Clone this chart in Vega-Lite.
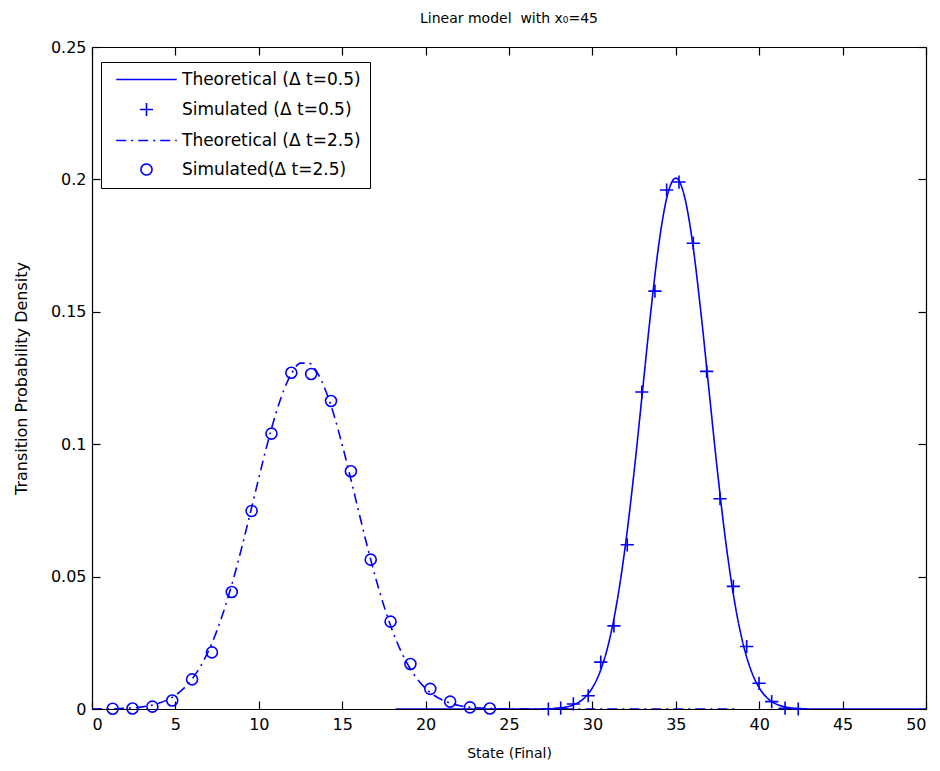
{
  "$schema": "https://vega.github.io/schema/vega-lite/v6.json",
  "width": 834,
  "height": 662,
  "autosize": "none",
  "padding": {"left": 92, "top": 47, "right": 14, "bottom": 62},
  "background": "white",
  "title": {"text": "Linear model\u00a0 with x₀=45", "font": "DejaVu Sans", "fontSize": 14, "fontWeight": "normal", "color": "black", "offset": 13, "anchor": "middle"},
  "config": {
    "view": {"stroke": "black", "strokeWidth": 1},
    "axis": {"grid": false, "domainColor": "black", "tickColor": "black", "labelColor": "black", "titleColor": "black", "labelFont": "DejaVu Sans", "titleFont": "DejaVu Sans", "labelFontSize": 16, "titleFontSize": 15, "titleFontWeight": "normal", "tickSize": -8, "domainWidth": 1.2, "tickWidth": 1.2}
  },
  "datasets": {
    "theory": [
      {"series": "Theoretical (Δ t=0.5)", "x": 18.2, "y": 0},
      {"series": "Theoretical (Δ t=0.5)", "x": 26, "y": 0},
      {"series": "Theoretical (Δ t=0.5)", "x": 27, "y": 0.00002},
      {"series": "Theoretical (Δ t=0.5)", "x": 27.5, "y": 0.00008},
      {"series": "Theoretical (Δ t=0.5)", "x": 28, "y": 0.00036},
      {"series": "Theoretical (Δ t=0.5)", "x": 28.5, "y": 0.00087},
      {"series": "Theoretical (Δ t=0.5)", "x": 29, "y": 0.00194},
      {"series": "Theoretical (Δ t=0.5)", "x": 29.5, "y": 0.00407},
      {"series": "Theoretical (Δ t=0.5)", "x": 30, "y": 0.008},
      {"series": "Theoretical (Δ t=0.5)", "x": 30.5, "y": 0.01476},
      {"series": "Theoretical (Δ t=0.5)", "x": 31, "y": 0.0255},
      {"series": "Theoretical (Δ t=0.5)", "x": 31.5, "y": 0.0414},
      {"series": "Theoretical (Δ t=0.5)", "x": 32, "y": 0.0629},
      {"series": "Theoretical (Δ t=0.5)", "x": 32.5, "y": 0.0896},
      {"series": "Theoretical (Δ t=0.5)", "x": 33, "y": 0.1198},
      {"series": "Theoretical (Δ t=0.5)", "x": 33.5, "y": 0.15},
      {"series": "Theoretical (Δ t=0.5)", "x": 34, "y": 0.1763},
      {"series": "Theoretical (Δ t=0.5)", "x": 34.5, "y": 0.1941},
      {"series": "Theoretical (Δ t=0.5)", "x": 35, "y": 0.2005},
      {"series": "Theoretical (Δ t=0.5)", "x": 35.5, "y": 0.1941},
      {"series": "Theoretical (Δ t=0.5)", "x": 36, "y": 0.1763},
      {"series": "Theoretical (Δ t=0.5)", "x": 36.5, "y": 0.15},
      {"series": "Theoretical (Δ t=0.5)", "x": 37, "y": 0.1198},
      {"series": "Theoretical (Δ t=0.5)", "x": 37.5, "y": 0.0896},
      {"series": "Theoretical (Δ t=0.5)", "x": 38, "y": 0.0629},
      {"series": "Theoretical (Δ t=0.5)", "x": 38.5, "y": 0.0414},
      {"series": "Theoretical (Δ t=0.5)", "x": 39, "y": 0.0255},
      {"series": "Theoretical (Δ t=0.5)", "x": 39.5, "y": 0.01476},
      {"series": "Theoretical (Δ t=0.5)", "x": 40, "y": 0.008},
      {"series": "Theoretical (Δ t=0.5)", "x": 40.5, "y": 0.00407},
      {"series": "Theoretical (Δ t=0.5)", "x": 41, "y": 0.00194},
      {"series": "Theoretical (Δ t=0.5)", "x": 41.5, "y": 0.00087},
      {"series": "Theoretical (Δ t=0.5)", "x": 42, "y": 0.00036},
      {"series": "Theoretical (Δ t=0.5)", "x": 42.5, "y": 0.00014},
      {"series": "Theoretical (Δ t=0.5)", "x": 43, "y": 0.00002},
      {"series": "Theoretical (Δ t=0.5)", "x": 44, "y": 0},
      {"series": "Theoretical (Δ t=0.5)", "x": 50, "y": 0},
      {"series": "Theoretical (Δ t=2.5)", "x": 0, "y": 0.00002},
      {"series": "Theoretical (Δ t=2.5)", "x": 1, "y": 0.00008},
      {"series": "Theoretical (Δ t=2.5)", "x": 2, "y": 0.00026},
      {"series": "Theoretical (Δ t=2.5)", "x": 3, "y": 0.00079},
      {"series": "Theoretical (Δ t=2.5)", "x": 4, "y": 0.00214},
      {"series": "Theoretical (Δ t=2.5)", "x": 4.5, "y": 0.00338},
      {"series": "Theoretical (Δ t=2.5)", "x": 5, "y": 0.00519},
      {"series": "Theoretical (Δ t=2.5)", "x": 5.5, "y": 0.00777},
      {"series": "Theoretical (Δ t=2.5)", "x": 6, "y": 0.01132},
      {"series": "Theoretical (Δ t=2.5)", "x": 6.5, "y": 0.01605},
      {"series": "Theoretical (Δ t=2.5)", "x": 7, "y": 0.02215},
      {"series": "Theoretical (Δ t=2.5)", "x": 7.5, "y": 0.02978},
      {"series": "Theoretical (Δ t=2.5)", "x": 8, "y": 0.03896},
      {"series": "Theoretical (Δ t=2.5)", "x": 8.5, "y": 0.04962},
      {"series": "Theoretical (Δ t=2.5)", "x": 9, "y": 0.06152},
      {"series": "Theoretical (Δ t=2.5)", "x": 9.5, "y": 0.07425},
      {"series": "Theoretical (Δ t=2.5)", "x": 10, "y": 0.08725},
      {"series": "Theoretical (Δ t=2.5)", "x": 10.5, "y": 0.0998},
      {"series": "Theoretical (Δ t=2.5)", "x": 11, "y": 0.1111},
      {"series": "Theoretical (Δ t=2.5)", "x": 11.5, "y": 0.1204},
      {"series": "Theoretical (Δ t=2.5)", "x": 12, "y": 0.1271},
      {"series": "Theoretical (Δ t=2.5)", "x": 12.5, "y": 0.1306},
      {"series": "Theoretical (Δ t=2.5)", "x": 13, "y": 0.1306},
      {"series": "Theoretical (Δ t=2.5)", "x": 13.5, "y": 0.1271},
      {"series": "Theoretical (Δ t=2.5)", "x": 14, "y": 0.1204},
      {"series": "Theoretical (Δ t=2.5)", "x": 14.5, "y": 0.1111},
      {"series": "Theoretical (Δ t=2.5)", "x": 15, "y": 0.0998},
      {"series": "Theoretical (Δ t=2.5)", "x": 15.5, "y": 0.08725},
      {"series": "Theoretical (Δ t=2.5)", "x": 16, "y": 0.07425},
      {"series": "Theoretical (Δ t=2.5)", "x": 16.5, "y": 0.06152},
      {"series": "Theoretical (Δ t=2.5)", "x": 17, "y": 0.04962},
      {"series": "Theoretical (Δ t=2.5)", "x": 17.5, "y": 0.03896},
      {"series": "Theoretical (Δ t=2.5)", "x": 18, "y": 0.02978},
      {"series": "Theoretical (Δ t=2.5)", "x": 18.5, "y": 0.02215},
      {"series": "Theoretical (Δ t=2.5)", "x": 19, "y": 0.01605},
      {"series": "Theoretical (Δ t=2.5)", "x": 19.5, "y": 0.01132},
      {"series": "Theoretical (Δ t=2.5)", "x": 20, "y": 0.00777},
      {"series": "Theoretical (Δ t=2.5)", "x": 20.5, "y": 0.00519},
      {"series": "Theoretical (Δ t=2.5)", "x": 21, "y": 0.00338},
      {"series": "Theoretical (Δ t=2.5)", "x": 21.5, "y": 0.00214},
      {"series": "Theoretical (Δ t=2.5)", "x": 22, "y": 0.00132},
      {"series": "Theoretical (Δ t=2.5)", "x": 22.5, "y": 0.00079},
      {"series": "Theoretical (Δ t=2.5)", "x": 23, "y": 0.00046},
      {"series": "Theoretical (Δ t=2.5)", "x": 24, "y": 0.00015},
      {"series": "Theoretical (Δ t=2.5)", "x": 25, "y": 0.00004},
      {"series": "Theoretical (Δ t=2.5)", "x": 26, "y": 0},
      {"series": "Theoretical (Δ t=2.5)", "x": 38.6, "y": 0}
    ],
    "sim": [
      {"series": "Simulated (Δ t=0.5)", "x": 27.36, "y": 0},
      {"series": "Simulated (Δ t=0.5)", "x": 28.1, "y": 0.0003},
      {"series": "Simulated (Δ t=0.5)", "x": 28.86, "y": 0.0019},
      {"series": "Simulated (Δ t=0.5)", "x": 29.75, "y": 0.005},
      {"series": "Simulated (Δ t=0.5)", "x": 30.5, "y": 0.0177},
      {"series": "Simulated (Δ t=0.5)", "x": 31.29, "y": 0.0314},
      {"series": "Simulated (Δ t=0.5)", "x": 32.09, "y": 0.062},
      {"series": "Simulated (Δ t=0.5)", "x": 32.96, "y": 0.1197},
      {"series": "Simulated (Δ t=0.5)", "x": 33.75, "y": 0.1578},
      {"series": "Simulated (Δ t=0.5)", "x": 34.45, "y": 0.196},
      {"series": "Simulated (Δ t=0.5)", "x": 35.19, "y": 0.199},
      {"series": "Simulated (Δ t=0.5)", "x": 36.05, "y": 0.1759},
      {"series": "Simulated (Δ t=0.5)", "x": 36.85, "y": 0.1275},
      {"series": "Simulated (Δ t=0.5)", "x": 37.65, "y": 0.0794},
      {"series": "Simulated (Δ t=0.5)", "x": 38.45, "y": 0.0463},
      {"series": "Simulated (Δ t=0.5)", "x": 39.25, "y": 0.0236},
      {"series": "Simulated (Δ t=0.5)", "x": 39.99, "y": 0.0097},
      {"series": "Simulated (Δ t=0.5)", "x": 40.75, "y": 0.0028},
      {"series": "Simulated (Δ t=0.5)", "x": 41.55, "y": 0.0003},
      {"series": "Simulated (Δ t=0.5)", "x": 42.34, "y": 0},
      {"series": "Simulated(Δ t=2.5)", "x": 1.24, "y": 0.0001},
      {"series": "Simulated(Δ t=2.5)", "x": 2.43, "y": 0.0002},
      {"series": "Simulated(Δ t=2.5)", "x": 3.62, "y": 0.0009},
      {"series": "Simulated(Δ t=2.5)", "x": 4.81, "y": 0.0032},
      {"series": "Simulated(Δ t=2.5)", "x": 6.0, "y": 0.0112},
      {"series": "Simulated(Δ t=2.5)", "x": 7.19, "y": 0.0214},
      {"series": "Simulated(Δ t=2.5)", "x": 8.38, "y": 0.0442},
      {"series": "Simulated(Δ t=2.5)", "x": 9.57, "y": 0.0748},
      {"series": "Simulated(Δ t=2.5)", "x": 10.76, "y": 0.104},
      {"series": "Simulated(Δ t=2.5)", "x": 11.95, "y": 0.127},
      {"series": "Simulated(Δ t=2.5)", "x": 13.14, "y": 0.1265},
      {"series": "Simulated(Δ t=2.5)", "x": 14.33, "y": 0.1163},
      {"series": "Simulated(Δ t=2.5)", "x": 15.52, "y": 0.0898},
      {"series": "Simulated(Δ t=2.5)", "x": 16.71, "y": 0.0564},
      {"series": "Simulated(Δ t=2.5)", "x": 17.9, "y": 0.033},
      {"series": "Simulated(Δ t=2.5)", "x": 19.09, "y": 0.017},
      {"series": "Simulated(Δ t=2.5)", "x": 20.28, "y": 0.0076},
      {"series": "Simulated(Δ t=2.5)", "x": 21.47, "y": 0.0028},
      {"series": "Simulated(Δ t=2.5)", "x": 22.66, "y": 0.0006},
      {"series": "Simulated(Δ t=2.5)", "x": 23.85, "y": 0.0002}
    ]
  },
  "resolve": {"axis": {"x": "independent", "y": "independent"}},
  "layer": [
    {
      "data": {"name": "theory"},
      "mark": {"type": "line", "strokeWidth": 1.6, "interpolate": "monotone", "clip": true},
      "encoding": {
        "x": {"field": "x", "type": "quantitative", "scale": {"domain": [0, 50], "nice": false}, "axis": {"title": "State (Final)", "titleFontSize": 14, "values": [0,5,10,15,20,25,30,35,40,45,50], "labelPadding": 15, "titlePadding": 14}},
        "y": {"field": "y", "type": "quantitative", "scale": {"domain": [0, 0.25], "nice": false, "zero": false}, "axis": {"title": "Transition Probability Density", "titleFontSize": 16, "values": [0,0.05,0.1,0.15,0.2,0.25], "format": "~g", "labelPadding": 14, "titlePadding": 21}},
        "color": {"field": "series", "type": "nominal", "scale": {"domain": ["Theoretical (Δ t=0.5)", "Simulated (Δ t=0.5)", "Theoretical (Δ t=2.5)", "Simulated(Δ t=2.5)"], "range": ["#0000ff", "#0000ff", "#0000ff", "#0000ff"]}, "legend": {"title": null, "orient": "none", "legendX": 9, "legendY": 15, "strokeColor": "black", "fillColor": "white", "padding": 9, "symbolOffset": 28, "labelOffset": 27, "rowPadding": 11, "labelFont": "DejaVu Sans", "labelFontSize": 17, "labelLimit": 400, "labelColor": "black", "symbolSize": 121, "symbolStrokeWidth": 1.6, "symbolFillColor": "transparent", "cornerRadius": 0}},
        "strokeDash": {"field": "series", "type": "nominal", "scale": {"domain": ["Theoretical (Δ t=0.5)", "Simulated (Δ t=0.5)", "Theoretical (Δ t=2.5)", "Simulated(Δ t=2.5)"], "range": [[1, 0], [1, 0], [10, 5, 2, 5], [1, 0]]}, "legend": {"title": null}}
      }
    },
    {
      "data": {"name": "sim"},
      "mark": {"type": "point", "filled": false, "size": 121, "strokeWidth": 1.6, "opacity": 1},
      "encoding": {
        "x": {"field": "x", "type": "quantitative", "axis": {"orient": "top", "values": [0,5,10,15,20,25,30,35,40,45,50], "labels": false, "title": null}},
        "y": {"field": "y", "type": "quantitative", "axis": {"orient": "right", "values": [0,0.05,0.1,0.15,0.2,0.25], "labels": false, "title": null}},
        "color": {"field": "series", "type": "nominal", "legend": {"title": null}},
        "shape": {"field": "series", "type": "nominal", "scale": {"domain": ["Theoretical (Δ t=0.5)", "Simulated (Δ t=0.5)", "Theoretical (Δ t=2.5)", "Simulated(Δ t=2.5)"], "range": ["M-5.5,0H5.5", "M-1.2,0H1.2M0,-1.2V1.2", "M-5.5,0H5.5", "circle"]}, "legend": {"title": null}}
      }
    }
  ]
}
